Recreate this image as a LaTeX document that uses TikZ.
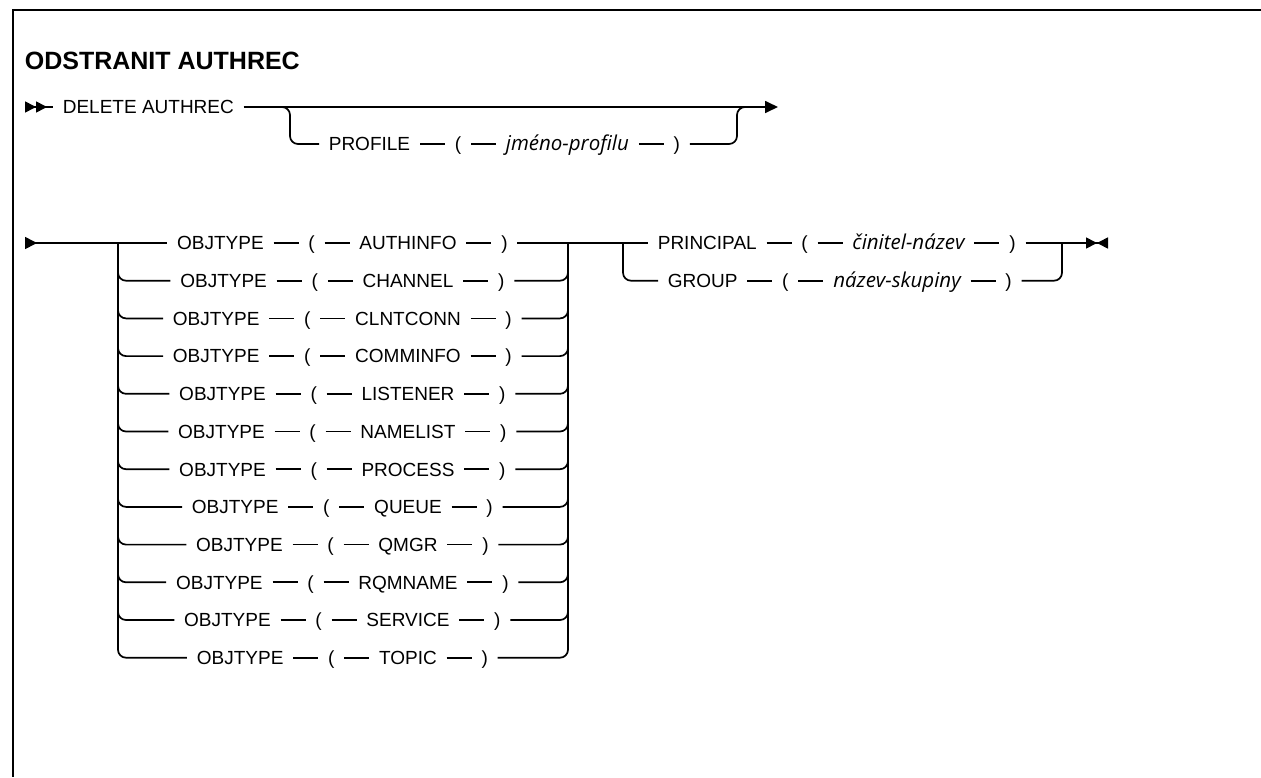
\documentclass[tikz,border=0pt]{standalone}
\usepackage{fontspec}
\setmainfont{Liberation Sans}
\newfontfamily\varfont{Open Sans}
\usetikzlibrary{arrows.meta,positioning}

\begin{document}
\begin{tikzpicture}[x=1pt, y=-1pt,
  line width=1.7pt,
  font=\fontsize{19}{22}\selectfont,
  tok/.style={inner xsep=9pt, inner ysep=0pt, text height=13.6pt, text depth=0pt},
  var/.style={tok, font=\varfont\fontsize{20.5}{24}\selectfont\itshape},
  rc/.style={rounded corners=8pt},
  node distance=25pt,
]
\useasboundingbox (0,0) rectangle (1261,777);
\draw[line width=2.4pt] (1261,10) -| (13,777);

\node[anchor=west, inner sep=0pt, font=\fontsize{25}{30}\selectfont\bfseries] (title) at (24,61) {ODSTRANIT AUTHREC};

% first line
\coordinate (s1) at (25,107);
\coordinate (e1) at (778,107);
\node[tok, anchor=west] (del) at (53,107) {DELETE AUTHREC};
\node[tok, anchor=west] (prof) at (319,144) {PROFILE};
\node[tok, right=of prof] (lp0) {(};
\node[var, right=of lp0] (pname) {jméno-profilu\hspace{7pt}};
\node[tok, right=of pname] (rp0) {)};
\coordinate (j1) at (280,107);
\coordinate (j2) at (748,107);
\draw[{Triangle[reversed,length=11pt,width=11pt]Triangle[reversed,length=11pt,width=11pt]}-] (s1) -- (del);
\draw[-{Triangle[length=13pt,width=12pt]}] (del) -- (e1);
\draw[rc] (j1) -| ([xshift=-29pt]prof.west) -- (prof);
\draw (prof) -- (lp0) -- (pname) -- (rp0);
\draw[rc] (rp0) -- (737,144) |- (j2);

% second line
\coordinate (s2) at (25,243);
\coordinate (lv) at (118,243);
\coordinate (rv) at (568,243);
\foreach \v [count=\i] in {AUTHINFO,CHANNEL,CLNTCONN,COMMINFO,LISTENER,NAMELIST,PROCESS,QUEUE,QMGR,RQMNAME,SERVICE,TOPIC} {
  \pgfmathsetmacro\yy{243+(\i-1)*37.7}
  \node[tok] (val\i) at (408,\yy) {\v};
  \node[tok, left=of val\i] (lp\i) {(};
  \node[tok, left=of lp\i] (obj\i) {OBJTYPE};
  \node[tok, right=of val\i] (rp\i) {)};
  \draw (obj\i) -- (lp\i) -- (val\i) -- (rp\i);
  \ifnum\i>1
    \draw[rc] (lv) |- (obj\i);
    \draw[rc] (rp\i) -| (rv);
  \fi
}
\draw[{Triangle[reversed,length=12pt,width=12pt]}-] (s2) -- (obj1);

\coordinate (lv2) at (623,243);
\coordinate (rv2) at (1062,243);
\coordinate (e2) at (1108,243);
\node[tok, anchor=west] (prin) at (648,243) {PRINCIPAL};
\node[tok, right=of prin] (lpp) {(};
\node[var, right=of lpp] (pval) {činitel-název\hspace{7pt}};
\node[tok, right=of pval] (rpp) {)};
\node[tok, anchor=west] (grp) at (658,280.7) {GROUP};
\node[tok, right=of grp] (lpg) {(};
\node[var, right=of lpg] (gval) {název-skupiny\hspace{7pt}};
\node[tok, right=of gval] (rpg) {)};
\draw (rp1) -- (prin);
\draw (prin) -- (lpp) -- (pval) -- (rpp);
\draw (grp) -- (lpg) -- (gval) -- (rpg);
\draw[rc] (lv2) |- (grp);
\draw[rc] (rpg) -| (rv2);
\draw[-{Triangle[length=11pt,width=11pt]Triangle[reversed,length=11pt,width=11pt]}] (rpp) -- (e2);
\end{tikzpicture}
\end{document}
